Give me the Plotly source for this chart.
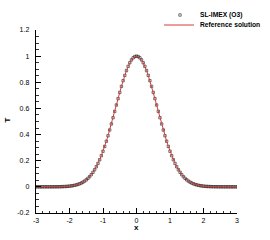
import plotly.graph_objects as go

x_vals = [-3.00, -2.95, -2.90, -2.85, -2.80, -2.75, -2.70, -2.65, -2.60, -2.55,
          -2.50, -2.45, -2.40, -2.35, -2.30, -2.25, -2.20, -2.15, -2.10, -2.05,
          -2.00, -1.95, -1.90, -1.85, -1.80, -1.75, -1.70, -1.65, -1.60, -1.55,
          -1.50, -1.45, -1.40, -1.35, -1.30, -1.25, -1.20, -1.15, -1.10, -1.05,
          -1.00, -0.95, -0.90, -0.85, -0.80, -0.75, -0.70, -0.65, -0.60, -0.55,
          -0.50, -0.45, -0.40, -0.35, -0.30, -0.25, -0.20, -0.15, -0.10, -0.05,
          0.00, 0.05, 0.10, 0.15, 0.20, 0.25, 0.30, 0.35, 0.40, 0.45,
          0.50, 0.55, 0.60, 0.65, 0.70, 0.75, 0.80, 0.85, 0.90, 0.95,
          1.00, 1.05, 1.10, 1.15, 1.20, 1.25, 1.30, 1.35, 1.40, 1.45,
          1.50, 1.55, 1.60, 1.65, 1.70, 1.75, 1.80, 1.85, 1.90, 1.95,
          2.00, 2.05, 2.10, 2.15, 2.20, 2.25, 2.30, 2.35, 2.40, 2.45,
          2.50, 2.55, 2.60, 2.65, 2.70, 2.75, 2.80, 2.85, 2.90, 2.95, 3.00]

t_imex = [0.0000, 0.0000, 0.0000, 0.0000, 0.0000, 0.0001, 0.0001, 0.0001, 0.0002, 0.0002,
          0.0003, 0.0004, 0.0006, 0.0008, 0.0010, 0.0014, 0.0019, 0.0025, 0.0032, 0.0042,
          0.0055, 0.0071, 0.0092, 0.0117, 0.0148, 0.0187, 0.0234, 0.0290, 0.0359, 0.0440,
          0.0537, 0.0650, 0.0782, 0.0935, 0.1111, 0.1312, 0.1538, 0.1792, 0.2074, 0.2385,
          0.2725, 0.3094, 0.3489, 0.3909, 0.4352, 0.4813, 0.5289, 0.5774, 0.6263, 0.6749,
          0.7225, 0.7686, 0.8122, 0.8528, 0.8896, 0.9220, 0.9493, 0.9712, 0.9871, 0.9968,
          1.0000, 0.9968, 0.9871, 0.9712, 0.9493, 0.9220, 0.8896, 0.8528, 0.8122, 0.7686,
          0.7225, 0.6749, 0.6263, 0.5774, 0.5289, 0.4813, 0.4352, 0.3909, 0.3489, 0.3094,
          0.2725, 0.2385, 0.2074, 0.1792, 0.1538, 0.1312, 0.1111, 0.0935, 0.0782, 0.0650,
          0.0537, 0.0440, 0.0359, 0.0290, 0.0234, 0.0187, 0.0148, 0.0117, 0.0092, 0.0071,
          0.0055, 0.0042, 0.0032, 0.0025, 0.0019, 0.0014, 0.0010, 0.0008, 0.0006, 0.0004,
          0.0003, 0.0002, 0.0002, 0.0001, 0.0001, 0.0001, 0.0000, 0.0000, 0.0000, 0.0000, 0.0000]

t_ref = [0.0000, 0.0000, 0.0000, 0.0000, 0.0000, 0.0001, 0.0001, 0.0001, 0.0002, 0.0002,
         0.0003, 0.0004, 0.0006, 0.0008, 0.0010, 0.0014, 0.0019, 0.0025, 0.0032, 0.0042,
         0.0055, 0.0071, 0.0092, 0.0117, 0.0148, 0.0187, 0.0234, 0.0290, 0.0359, 0.0440,
         0.0537, 0.0650, 0.0782, 0.0935, 0.1111, 0.1312, 0.1538, 0.1792, 0.2074, 0.2385,
         0.2725, 0.3094, 0.3489, 0.3909, 0.4352, 0.4813, 0.5289, 0.5774, 0.6263, 0.6749,
         0.7225, 0.7686, 0.8122, 0.8528, 0.8896, 0.9220, 0.9493, 0.9712, 0.9871, 0.9968,
         1.0000, 0.9968, 0.9871, 0.9712, 0.9493, 0.9220, 0.8896, 0.8528, 0.8122, 0.7686,
         0.7225, 0.6749, 0.6263, 0.5774, 0.5289, 0.4813, 0.4352, 0.3909, 0.3489, 0.3094,
         0.2725, 0.2385, 0.2074, 0.1792, 0.1538, 0.1312, 0.1111, 0.0935, 0.0782, 0.0650,
         0.0537, 0.0440, 0.0359, 0.0290, 0.0234, 0.0187, 0.0148, 0.0117, 0.0092, 0.0071,
         0.0055, 0.0042, 0.0032, 0.0025, 0.0019, 0.0014, 0.0010, 0.0008, 0.0006, 0.0004,
         0.0003, 0.0002, 0.0002, 0.0001, 0.0001, 0.0001, 0.0000, 0.0000, 0.0000, 0.0000, 0.0000]

x_ticks = [-3, -2, -1, 0, 1, 2, 3]
x_ticktext = ["-3", "-2", "-1", "0", "1", "2", "3"]
y_ticks = [-0.2, 0, 0.2, 0.4, 0.6, 0.8, 1, 1.2]
y_ticktext = ["-0.2", "0", "0.2", "0.4", "0.6", "0.8", "1", "1.2"]

series_names = ["SL-IMEX (O3)", "Reference solution"]
axis_titles = ["x", "T"]
RED = "#d93a3a"
MARK = "#1a1a1a"
FONT = "Liberation Sans, Arial, sans-serif"

fig = go.Figure()
fig.add_trace(go.Scatter(x=x_vals, y=t_imex, mode="markers", name=series_names[0],
                         marker=dict(symbol="square-open", size=2.4, color=MARK,
                                     line=dict(width=0.6, color=MARK)),
                         showlegend=False, hoverinfo="skip"))
fig.add_trace(go.Scatter(x=x_vals, y=t_ref, mode="lines", name=series_names[1],
                         line=dict(color=RED, width=1), showlegend=False, hoverinfo="skip"))

axis_common = dict(showgrid=False, zeroline=False, showline=True, linecolor="black",
                   linewidth=1.3, ticks="inside", ticklen=5, tickwidth=1, tickcolor="black",
                   mirror=False, automargin=False,
                   tickfont=dict(family=FONT, size=7, color="black"))

fig.update_xaxes(range=[-3, 3], tickvals=x_ticks, ticktext=x_ticktext,
                 minor=dict(ticks="inside", dtick=0.2, ticklen=2.5, tickcolor="black", tickwidth=0.8),
                 ticklabelstandoff=0, **axis_common)
fig.update_yaxes(range=[-0.2, 1.2], tickvals=y_ticks, ticktext=y_ticktext,
                 minor=dict(ticks="inside", dtick=0.05, tick0=0, ticklen=2.5, tickcolor="black", tickwidth=0.8),
                 ticklabelstandoff=4, **axis_common)

# pixel helpers for decorations
W, H = 270, 240
ml, mr, mt, mb = 36, 33, 30, 27
pw, ph = W - ml - mr, H - mt - mb

def px2x(p):
    return (p - ml) / pw

def py2y(p):
    return 1 - (p - mt) / ph

# axis titles
fig.add_annotation(text="<b>" + axis_titles[0] + "</b>", xref="paper", yref="paper",
                   x=px2x(136.5), y=py2y(227), xanchor="center", yanchor="middle",
                   showarrow=False, font=dict(family=FONT, size=8, color="black"))
fig.add_annotation(text="<b>" + axis_titles[1] + "</b>", xref="paper", yref="paper",
                   x=px2x(6.5), y=py2y(120), xanchor="center", yanchor="middle", textangle=-90,
                   showarrow=False, font=dict(family=FONT, size=8, color="black"))

# legend
fig.add_shape(type="rect", xref="paper", yref="paper",
              x0=px2x(178.8), x1=px2x(181.2), y0=py2y(16.2), y1=py2y(13.8),
              line=dict(color=MARK, width=0.6))
fig.add_shape(type="line", xref="paper", yref="paper",
              x0=px2x(164), x1=px2x(194), y0=py2y(25), y1=py2y(25),
              line=dict(color=RED, width=1))
for name, py in zip(series_names, [15, 25]):
    fig.add_annotation(text="<b>" + name + "</b>", xref="paper", yref="paper",
                       x=px2x(198), y=py2y(py), xanchor="left", yanchor="middle",
                       showarrow=False, font=dict(family=FONT, size=6.7, color="black"))

fig.update_layout(width=W, height=H, margin=dict(l=ml, r=mr, t=mt, b=mb, autoexpand=False),
                  plot_bgcolor="white", paper_bgcolor="white", showlegend=False,
                  hovermode=False)

fig.write_html("out.html", config={"displayModeBar": False, "staticPlot": True},
               post_script="document.body.style.margin='0';document.body.style.padding='0';")
